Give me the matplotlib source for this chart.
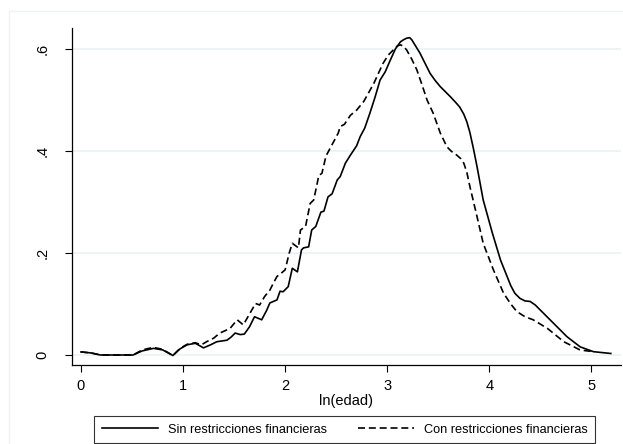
import matplotlib.pyplot as plt
from matplotlib.patches import Rectangle

plt.rcParams.update(
    {
        "font.family": ["Liberation Sans", "DejaVu Sans"],
        "font.size": 10.5,
    }
)

# kernel density of ln(edad)
sin_x = [0.00, 0.10, 0.19, 0.30, 0.51, 0.60, 0.71, 0.80, 0.90, 0.97, 1.04, 1.12,
         1.20, 1.27, 1.33, 1.43, 1.47, 1.51, 1.56, 1.60, 1.65, 1.70, 1.77, 1.82,
         1.85, 1.92, 1.95, 1.98, 2.03, 2.07, 2.12, 2.16, 2.18, 2.23, 2.26, 2.30,
         2.35, 2.38, 2.42, 2.46, 2.51, 2.54, 2.59, 2.64, 2.70, 2.735, 2.78, 2.83,
         2.88, 2.93, 2.98, 3.03, 3.08, 3.13, 3.16, 3.19, 3.22, 3.24, 3.28, 3.32,
         3.37, 3.42, 3.47, 3.52, 3.57, 3.62, 3.68, 3.71, 3.75, 3.78, 3.81, 3.845,
         3.88, 3.94, 4.03, 4.11, 4.21, 4.25, 4.30, 4.35, 4.40, 4.45, 4.50, 4.63,
         4.76, 4.89, 5.02, 5.19]
sin_y = [0.006, 0.004, 0.000, 0.000, 0.000, 0.008, 0.013, 0.010, -0.001, 0.012, 0.020, 0.023,
         0.014, 0.020, 0.026, 0.029, 0.035, 0.043, 0.040, 0.041, 0.055, 0.075, 0.069, 0.088,
         0.102, 0.108, 0.125, 0.124, 0.134, 0.170, 0.163, 0.206, 0.210, 0.212, 0.245, 0.252,
         0.280, 0.282, 0.310, 0.316, 0.343, 0.350, 0.376, 0.392, 0.410, 0.428, 0.445, 0.474,
         0.505, 0.539, 0.555, 0.578, 0.600, 0.614, 0.618, 0.621, 0.622, 0.618, 0.605, 0.592,
         0.572, 0.552, 0.538, 0.526, 0.516, 0.506, 0.493, 0.486, 0.472, 0.457, 0.436, 0.404,
         0.369, 0.304, 0.239, 0.186, 0.136, 0.121, 0.111, 0.106, 0.105, 0.098, 0.088, 0.062,
         0.036, 0.016, 0.0065, 0.003]

con_x = [0.00, 0.10, 0.19, 0.51, 0.60, 0.71, 0.80, 0.90, 0.97, 1.04, 1.12, 1.18,
         1.23, 1.30, 1.36, 1.46, 1.53, 1.59, 1.65, 1.71, 1.75, 1.80, 1.85, 1.885,
         1.92, 1.96, 2.00, 2.04, 2.07, 2.13, 2.15, 2.20, 2.245, 2.28, 2.33, 2.36,
         2.40, 2.44, 2.48, 2.52, 2.54, 2.58, 2.64, 2.70, 2.77, 2.82, 2.87, 2.92,
         2.96, 3.01, 3.06, 3.10, 3.13, 3.16, 3.19, 3.24, 3.29, 3.34, 3.39, 3.45,
         3.52, 3.585, 3.63, 3.68, 3.72, 3.75, 3.78, 3.81, 3.88, 3.94, 4.04, 4.14,
         4.21, 4.27, 4.35, 4.43, 4.57, 4.73, 4.89, 5.02]
con_y = [0.006, 0.004, 0.000, 0.000, 0.010, 0.015, 0.011, -0.001, 0.013, 0.021, 0.024, 0.020,
         0.026, 0.033, 0.043, 0.052, 0.069, 0.059, 0.080, 0.101, 0.098, 0.115, 0.127, 0.141,
         0.154, 0.160, 0.167, 0.200, 0.219, 0.210, 0.245, 0.252, 0.297, 0.304, 0.352, 0.356,
         0.390, 0.405, 0.420, 0.435, 0.448, 0.452, 0.470, 0.480, 0.497, 0.515, 0.533, 0.555,
         0.572, 0.588, 0.598, 0.606, 0.608, 0.605, 0.598, 0.580, 0.559, 0.530, 0.500, 0.474,
         0.435, 0.408, 0.399, 0.392, 0.385, 0.376, 0.358, 0.330, 0.271, 0.219, 0.167, 0.121,
         0.100, 0.085, 0.075, 0.069, 0.052, 0.026, 0.0098, 0.0065]

x_ticks = [0, 1, 2, 3, 4, 5]
y_ticks = [0, 0.2, 0.4, 0.6]
y_labels = ["0", ".2", ".4", ".6"]

W, H = 623, 444
fig = plt.figure(figsize=(W / 100, H / 100), dpi=100)

# faint Stata graph-region border
fig.patches.append(
    Rectangle((9 / W, -0.1), 1.1, 1 - 11 / H + 0.1, transform=fig.transFigure,
              fill=False, edgecolor="#eef2f5", linewidth=1.0)
)

ax = fig.add_axes([72 / W, 1 - 365 / H, (621 - 72) / W, (365 - 28) / H])
ax.set_xlim(-0.088, 5.29)
ax.set_ylim(-0.0196, 0.641)

for t in y_ticks:
    ax.axhline(t, color="#eaf2f3", linewidth=1.2, zorder=0)

ax.plot(sin_x, sin_y, color="black", linewidth=1.2, label="Sin restricciones financieras")
ax.plot(con_x, con_y, color="black", linewidth=1.2, dashes=(4.2, 2.3),
        label="Con restricciones financieras")

ax.spines["top"].set_visible(False)
ax.spines["right"].set_visible(False)
ax.spines["left"].set_linewidth(0.9)
ax.spines["bottom"].set_linewidth(0.9)

ax.set_xticks(x_ticks)
ax.set_yticks(y_ticks)
ax.set_yticklabels(y_labels, rotation=90, va="center")
ax.tick_params(axis="both", length=5, width=0.8, color="black")
ax.tick_params(axis="x", pad=5)
ax.tick_params(axis="y", pad=11)
ax.set_xlabel("ln(edad)", fontsize=10.5, labelpad=1)

leg = fig.legend(
    loc="upper left",
    bbox_to_anchor=(94 / W, 1 - 416 / H),
    ncol=2,
    fontsize=9.2,
    frameon=True,
    fancybox=False,
    edgecolor="black",
    handlelength=4.4,
    handletextpad=0.78,
    columnspacing=2.4,
    borderpad=0.6,
    borderaxespad=0,
)
leg.get_frame().set_linewidth(0.8)

plt.savefig("out.png", dpi=100)
plt.close(fig)
